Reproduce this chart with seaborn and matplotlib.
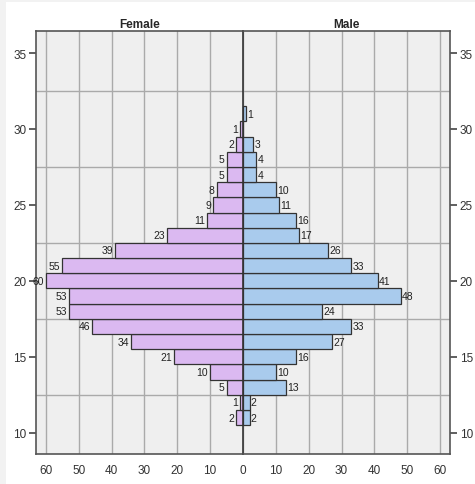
import numpy as np
import pandas as pd
import matplotlib.pyplot as plt
import seaborn as sns
from matplotlib.patches import Rectangle

ages = [31, 30, 29, 28, 27, 26, 25, 24, 23, 22, 21, 20, 19, 18, 17, 16, 15, 14, 13, 12, 11]
female = [0, 1, 2, 5, 5, 8, 9, 11, 23, 39, 55, 60, 53, 53, 46, 34, 21, 10, 5, 1, 2]
male = [1, 0, 3, 4, 4, 10, 11, 16, 17, 26, 33, 41, 48, 24, 33, 27, 16, 10, 13, 2, 2]

x_ticks = [0, 10, 20, 30, 40, 50, 60]
y_ticks = [10, 15, 20, 25, 30, 35]
y_grid = [12.5, 17.5, 22.5, 27.5, 32.5]

female_color = '#dbb9f1'
male_color = '#a9cbed'

sns.set_style('white')
plt.rcParams['font.family'] = ['Liberation Sans', 'DejaVu Sans']

df = pd.DataFrame({'age': ages, 'Female': female, 'Male': male})

fig = plt.figure(figsize=(4.75, 4.85), dpi=100)
fig.patch.set_facecolor('white')
# light grey strip along top and left edge of the image
fig.patches.append(Rectangle((0, 0), 6 / 475, 1, transform=fig.transFigure,
                             facecolor='#f2f2f2', edgecolor='none', zorder=-1))
fig.patches.append(Rectangle((0, 1 - 3 / 485), 1, 3 / 485, transform=fig.transFigure,
                             facecolor='#f2f2f2', edgecolor='none', zorder=-1))

bottom = 1 - 455 / 485
height = (455 - 32) / 485
ax_f = fig.add_axes([36 / 475, bottom, 207 / 475, height])
ax_m = fig.add_axes([243 / 475, bottom, 207 / 475, height])

edge = '#333333'
for ax, col, color in [(ax_f, 'Female', female_color), (ax_m, 'Male', male_color)]:
    sns.barplot(data=df, x=col, y='age', orient='y', native_scale=True, width=1,
                color=color, edgecolor=edge, linewidth=0.9, saturation=1, ax=ax)
    ax.set_facecolor('#efefef')
    ax.set_ylim(8.6, 36.45)
    ax.set_yticks(y_ticks)
    ax.set_yticks(y_grid, minor=True)
    ax.set_xticks(x_ticks)
    ax.grid(axis='x', which='major', color='#aaaaaa', linewidth=1.0)
    ax.grid(axis='y', which='minor', color='#aaaaaa', linewidth=1.0)
    ax.set_axisbelow(True)
    ax.set_xlabel('')
    ax.set_ylabel('')
    ax.set_title(col, fontsize=8.5, fontweight='bold', pad=3)
    ax.tick_params(axis='both', which='major', labelsize=8.5, length=5, width=1.2,
                   color='#444444', labelcolor='#333333', direction='out', pad=2)
    ax.tick_params(axis='y', which='minor', length=0)
    for s in ax.spines.values():
        s.set_color('#555555')
        s.set_linewidth(1.2)

# female side: mirrored axis, ticks on the left
ax_f.set_xlim(63, 0)
ax_f.set_xticks([60, 50, 40, 30, 20, 10])
ax_f.spines['right'].set_visible(False)
ax_f.yaxis.tick_left()
for a, v in zip(ages, female):
    if v > 0:
        ax_f.text(v + 0.6, a, str(v), ha='right', va='center', fontsize=7.5, color='#222222')

# male side: ticks on the right
ax_m.set_xlim(0, 63)
ax_m.yaxis.tick_right()
ax_m.spines['left'].set_color('#333333')
for a, v in zip(ages, male):
    if v > 0:
        ax_m.text(v + 0.4, a, str(v), ha='left', va='center', fontsize=7.5, color='#222222')

plt.savefig('out.png', dpi=100)
